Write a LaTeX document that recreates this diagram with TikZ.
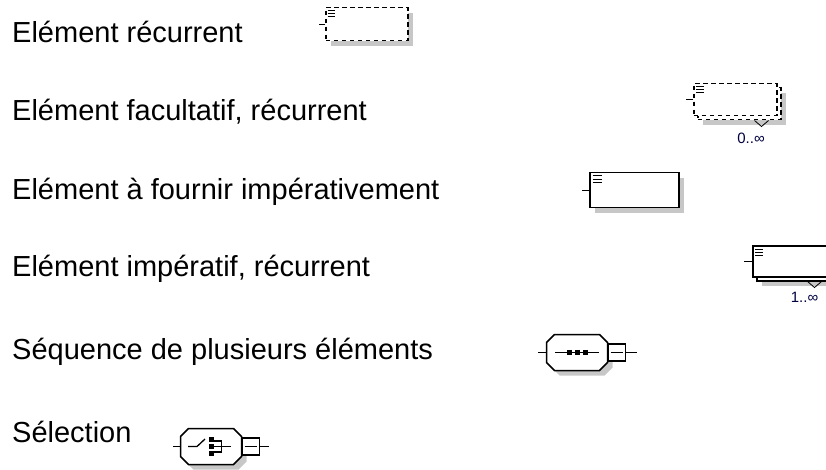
\documentclass[tikz,border=0pt]{standalone}
\usepackage{fontspec}
\setmainfont{Liberation Sans}
\usetikzlibrary{positioning,shadows}

\begin{document}
\begin{tikzpicture}[x=1pt, y=-1pt,
                    legend/.style={anchor=base west, inner sep=0pt,
                                   font=\fontsize{29}{35}\selectfont},
                    card/.style={draw=black, fill=white, line width=1.5pt,
                                 inner sep=0pt, anchor=north west},
                    loose card/.style={card, dash pattern=on 4.5pt off 3.5pt},
                    shaded/.style={drop shadow={shadow xshift=5pt, shadow yshift=-5pt,
                                                fill=black!22, opacity=1}},
                    stub/.style={line width=1.3pt},
                    bars/.style={line width=1pt},
                    shade box/.style={fill=black!22, draw=none},
                    octo/.style={insert path={++(-22.5,-18) -- ++(45,0) -- ++(8,8) -- ++(0,20)
                                 -- ++(-8,8) -- ++(-45,0) -- ++(-8,-8) -- ++(0,-20) -- cycle}},
                    count/.style={font=\fontsize{15}{16}\selectfont, text=black!75!blue,
                                  inner sep=0pt}]
    \useasboundingbox (0,0) rectangle (826,470);

    % texts
    \node[legend] (recur) at (12,43)  {Elément récurrent};
    \node[legend] (facul) at (12,121) {Elément facultatif, récurrent};
    \node[legend] (oblig) at (12,200) {Elément à fournir impérativement};
    \node[legend] (oblrec) at (12,276) {Elément impératif, récurrent};
    \node[legend] (seq)   at (12,359) {Séquence de plusieurs éléments};
    \node[legend] (sel)   at (12,442) {Sélection};

    % element, recurrent
    \node[loose card, shaded, minimum width=82pt, minimum height=33pt] (recbox) at (325,7) {};
    \draw[stub] (recbox.west) -- ++(-6,0);
    \foreach \k in {0,1,2}
        \draw[bars] (327.5,10.5+3*\k) -- (335,10.5+3*\k);

    % optional, recurrent
    \node[loose card, shaded, minimum width=83pt, minimum height=32pt] (facback) at (697,87) {};
    \node[loose card, minimum width=83pt, minimum height=32pt] (facbox) at (693,83) {};
    \draw[stub] (facbox.west) -- ++(-7,0);
    \foreach \k in {0,1,2}
        \draw[bars] (696,87+3*\k) -- (704,87+3*\k);
    \draw[line width=0.8pt] ([xshift=-27pt]facback.south east) -- ++(7,6) -- ++(7,-6);
    \node[count] (faccount) at (751,138) {0..∞};

    % mandatory
    \node[card, shaded, minimum width=89pt, minimum height=35pt] (oblbox) at (589,172) {};
    \draw[stub] (oblbox.west) -- ++(-7,0);
    \foreach \k in {0,1,2}
        \draw[bars] (592.5,176+3.5*\k) -- (602,176+3.5*\k);

    % mandatory, recurrent
    \node[card, shaded, minimum width=82pt, minimum height=31pt] (orback) at (756,249) {};
    \node[card, minimum width=82pt, minimum height=31pt] (orbox) at (752,245) {};
    \draw[stub] (orbox.west) -- ++(-8,0);
    \foreach \k in {0,1,2}
        \draw[bars] (755,249+3*\k) -- (763,249+3*\k);
    \draw[line width=0.8pt] ([xshift=-32pt]orback.south east) -- ++(7,6) -- ++(7,-6);
    \node[count] (orcount) at (804.5,297) {1..∞};

    % sequence
    \coordinate (seqc) at (577,352.5);
    \fill[shade box] ([shift={(5,5)}]seqc) [octo];
    \draw[line width=1.5pt, fill=white] (seqc) [octo];
    \draw[stub] ([xshift=-30.5pt]seqc) -- ++(-9,0);
    \draw[stub] ([xshift=-22pt]seqc) -- ++(44,0);
    \foreach \k in {-8,0,8}
        \fill ([xshift=\k pt]seqc) +(-2.5,-2.5) rectangle +(2.5,2.5);
    \node[draw, line width=1.3pt, minimum size=17pt, inner sep=0pt, anchor=west,
          fill=white] (seqbtn) at ([xshift=30.5pt]seqc) {};
    \draw[stub] ([xshift=3pt]seqbtn.west) -- ([xshift=-3pt]seqbtn.east);
    \draw[stub] (seqbtn.east) -- ++(11,0);

    % choice
    \coordinate (selc) at (211,446.5);
    \fill[shade box] ([shift={(5,5)}]selc) [octo];
    \draw[line width=1.5pt, fill=white] (selc) [octo];
    \draw[stub] ([xshift=-30.5pt]selc) -- ++(-8,0);
    \draw[stub] ([xshift=-23pt]selc) -- ++(9,0) -- ++(8,-7.5);
    \foreach \k in {-7,0,7}
        \fill ([shift={(0,\k)}]selc) +(-2.5,-2.3) rectangle +(2.5,2.3);
    \draw[stub] ([shift={(2.5,-5.5)}]selc) -- ++(8,0) -- ++(0,11) -- ++(-8,0);
    \draw[stub] ([xshift=2.5pt]selc) -- ++(17,0);
    \node[draw, line width=1.3pt, minimum size=17pt, inner sep=0pt, anchor=west,
          fill=white] (selbtn) at ([xshift=30.5pt]selc) {};
    \draw[stub] ([xshift=3pt]selbtn.west) -- ([xshift=-3pt]selbtn.east);
    \draw[stub] (selbtn.east) -- ++(9,0);
\end{tikzpicture}
\end{document}
